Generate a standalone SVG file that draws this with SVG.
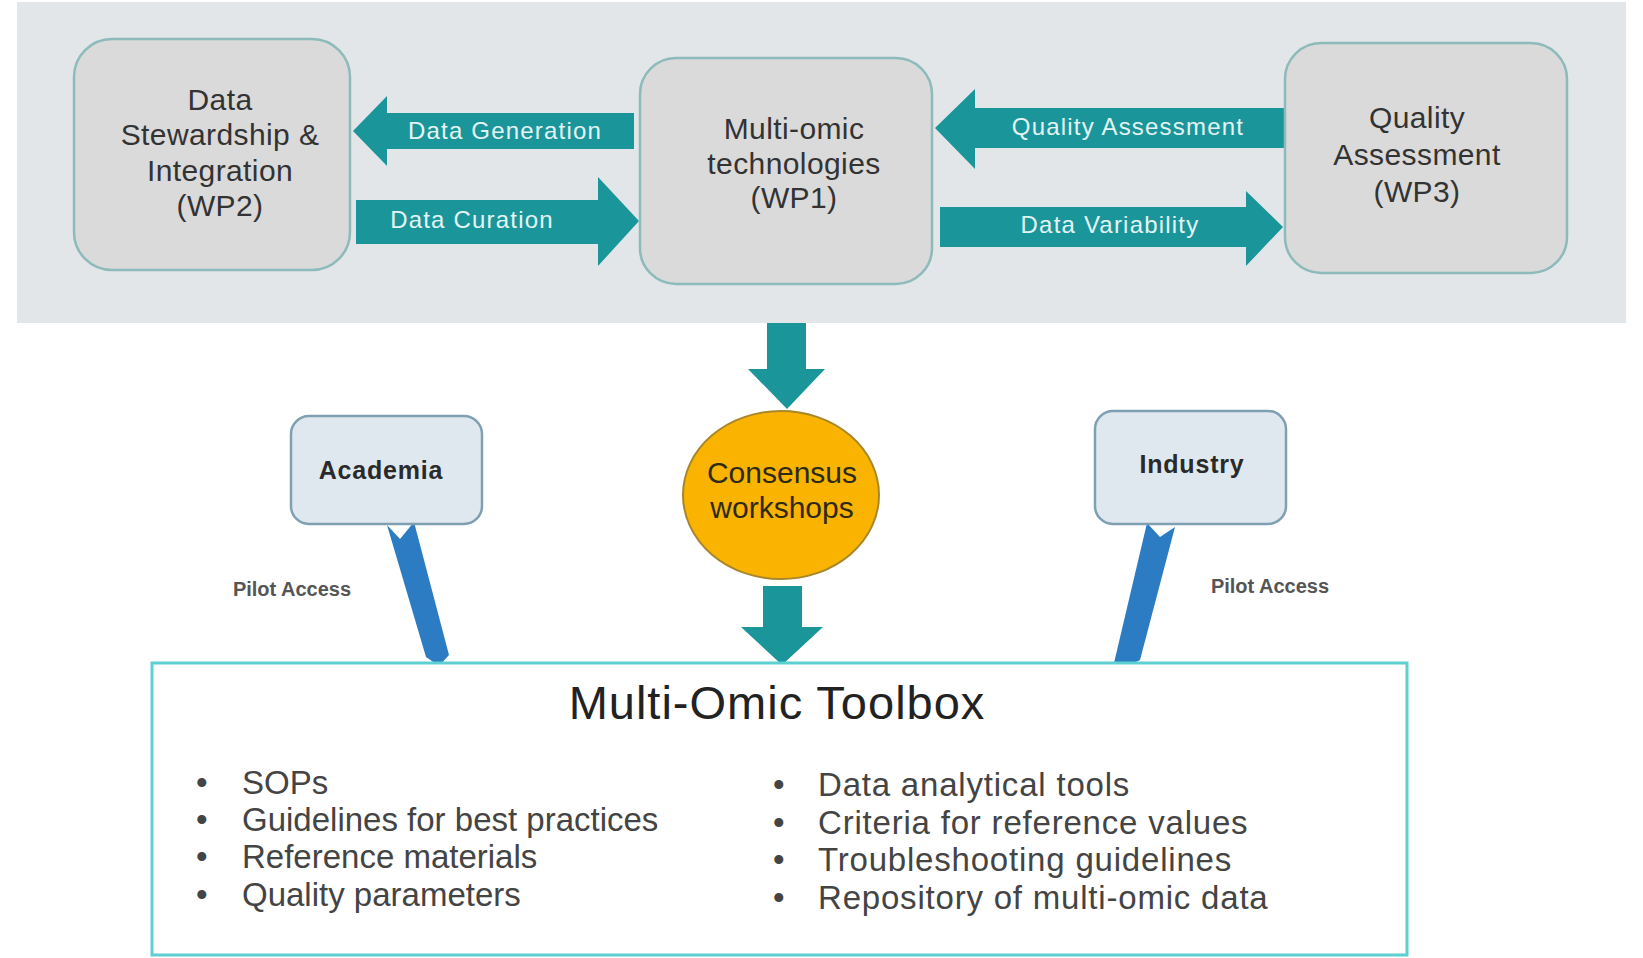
<svg xmlns="http://www.w3.org/2000/svg" width="1643" height="958" viewBox="0 0 1643 958">
  <style>
    text { font-family: "Liberation Sans", Arial, sans-serif; }
    .wp { fill: #dadada; stroke: #8dbaba; stroke-width: 2.5; }
    .wpt { font-size: 30px; fill: #333; text-anchor: middle; letter-spacing: 0.4px; }
    .flow { fill: #1a969b; }
    .flowt { font-size: 24px; fill: #e4f4f4; text-anchor: middle; letter-spacing: 1.2px; }
    .actor { fill: #dfe8ee; stroke: #7f9fb3; stroke-width: 2.5; }
    .actort { font-size: 25px; fill: #2a2a2a; text-anchor: middle; font-weight: bold; letter-spacing: 0.8px; }
    .pointer { fill: #2c7cc3; }
    .pilot { font-size: 20px; fill: #555; text-anchor: middle; font-weight: bold; }
    .item { font-size: 33px; fill: #444; }
    .left { letter-spacing: 0px; }
    .right { letter-spacing: 0.8px; }
  </style>

  <!-- work-package panel -->
  <rect id="panel" x="17" y="2" width="1609" height="321" fill="#e3e6e9"/>

  <g id="connectors">
    <!-- Data Generation: WP1 -> WP2 -->
    <polygon class="flow" points="353,131 387,96 387,113 634,113 634,149 387,149 387,166"/>
    <!-- Data Curation: WP2 -> WP1 -->
    <polygon class="flow" points="356,200 598,200 598,177 639,221 598,266 598,244 356,244"/>
    <!-- Quality Assessment: WP3 -> WP1 -->
    <polygon class="flow" points="935,128 975,89 975,108 1285,108 1285,148 975,148 975,169"/>
    <!-- Data Variability: WP1 -> WP3 -->
    <polygon class="flow" points="940,207 1246,207 1246,191 1283,227 1246,266 1246,247 940,247"/>
    <!-- panel -> consensus workshops -->
    <polygon class="flow" points="767,323 806,323 806,369 825,369 787,409 748,369 767,369"/>
    <!-- consensus workshops -> toolbox -->
    <polygon class="flow" points="763,586 802,586 802,627 823,627 782,665 741,627 763,627"/>
    <!-- pilot access pointers -->
    <polygon class="pointer" points="387,525 400,539 414,522 449,655 439,666 426,657"/>
    <polygon class="pointer" points="1147,523 1160,537 1175,527 1140,660 1126,667 1114,663"/>

    <text class="flowt" x="505" y="139">Data Generation</text>
    <text class="flowt" x="472" y="228">Data Curation</text>
    <text class="flowt" x="1128" y="135">Quality Assessment</text>
    <text class="flowt" x="1110" y="233">Data Variability</text>
    <text class="pilot" x="292" y="596">Pilot Access</text>
    <text class="pilot" x="1270" y="593">Pilot Access</text>
  </g>

  <g id="wp2">
    <rect class="wp" x="74" y="39" width="276" height="231" rx="38"/>
    <text class="wpt" x="220" y="110">Data</text>
    <text class="wpt" x="220" y="145">Stewardship &amp;</text>
    <text class="wpt" x="220" y="181">Integration</text>
    <text class="wpt" x="220" y="216">(WP2)</text>
  </g>

  <g id="wp1">
    <rect class="wp" x="640" y="58" width="292" height="226" rx="36"/>
    <text class="wpt" x="794" y="139">Multi-omic</text>
    <text class="wpt" x="794" y="174">technologies</text>
    <text class="wpt" x="794" y="208">(WP1)</text>
  </g>

  <g id="wp3">
    <rect class="wp" x="1285" y="43" width="282" height="230" rx="36"/>
    <text class="wpt" x="1417" y="128">Quality</text>
    <text class="wpt" x="1417" y="165">Assessment</text>
    <text class="wpt" x="1417" y="202">(WP3)</text>
  </g>

  <g id="consensus">
    <ellipse cx="781" cy="495" rx="98" ry="84" fill="#fab400" stroke="#a8862a" stroke-width="2"/>
    <text x="782" y="483" font-size="30" fill="#2e2a1a" text-anchor="middle">Consensus</text>
    <text x="782" y="518" font-size="30" fill="#2e2a1a" text-anchor="middle">workshops</text>
  </g>

  <g id="academia">
    <rect class="actor" x="291" y="416" width="191" height="108" rx="18"/>
    <text class="actort" x="381" y="479">Academia</text>
  </g>

  <g id="industry">
    <rect class="actor" x="1095" y="411" width="191" height="113" rx="18"/>
    <text class="actort" x="1192" y="473">Industry</text>
  </g>

  <g id="toolbox">
    <rect x="152" y="663" width="1255" height="292" fill="#ffffff" stroke="#5ccfd0" stroke-width="3"/>
    <text x="777" y="719" font-size="47" fill="#222" text-anchor="middle" letter-spacing="1">Multi-Omic Toolbox</text>
    <g class="item left">
      <text x="196" y="794">•</text>
      <text x="242" y="794">SOPs</text>
      <text x="196" y="831">•</text>
      <text x="242" y="831">Guidelines for best practices</text>
      <text x="196" y="868">•</text>
      <text x="242" y="868">Reference materials</text>
      <text x="196" y="906">•</text>
      <text x="242" y="906">Quality parameters</text>
    </g>
    <g class="item right">
      <text x="773" y="796">•</text>
      <text x="818" y="796">Data analytical tools</text>
      <text x="773" y="834">•</text>
      <text x="818" y="834">Criteria for reference values</text>
      <text x="773" y="871">•</text>
      <text x="818" y="871">Troubleshooting guidelines</text>
      <text x="773" y="909">•</text>
      <text x="818" y="909">Repository of multi-omic data</text>
    </g>
  </g>
</svg>
